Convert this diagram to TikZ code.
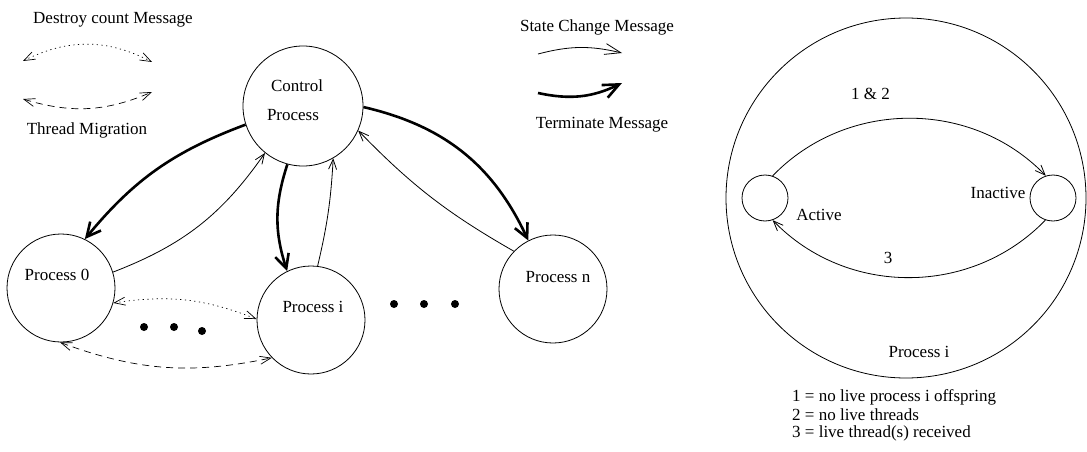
\documentclass[tikz,border=0pt]{standalone}
\usepackage{fontspec}
\setmainfont{Liberation Serif}
\usetikzlibrary{arrows.meta}
\begin{document}
\begin{tikzpicture}[x=1pt,y=1pt,
  font=\fontsize{17}{20}\selectfont,
  proc/.style={circle, draw, line width=0.8pt, inner sep=0pt, minimum size=108pt},
  state/.style={circle, draw, line width=0.8pt, inner sep=0pt, minimum size=46pt},
  lbl/.style={inner sep=0pt},
  dotmark/.style={circle, fill, inner sep=0pt, minimum size=8pt},
  thinmsg/.style={line width=0.8pt, -{Straight Barb[length=10pt,width=8pt]}},
  thickmsg/.style={line width=2.6pt, -{Straight Barb[length=14pt,width=14pt]}},
  dotmsg/.style={line width=0.7pt, dash pattern=on 1.2pt off 3.5pt,
    {Straight Barb[length=11pt,width=8pt]}-{Straight Barb[length=11pt,width=8pt]}},
  dashmsg/.style={line width=0.7pt, dash pattern=on 7pt off 5pt,
    {Straight Barb[length=11pt,width=8pt]}-{Straight Barb[length=11pt,width=8pt]}}
]
\useasboundingbox (0,0) rectangle (1087,451);

% ---- legend, top left and top middle ----
\node[lbl] (ldestroy) at (113,431) {Destroy count Message};
\coordinate (d1) at (23,390);
\coordinate (d2) at (152,389);
\draw[dotmsg] (d1) to[bend left=27] (d2);
\coordinate (m1) at (23,352);
\coordinate (m2) at (152,359);
\draw[dashmsg] (m1) to[bend right=20] (m2);
\node[lbl] (lmigr) at (87,321) {Thread Migration};

\node[lbl] (lstate) at (597,424) {State Change Message};
\coordinate (s1) at (538,397);
\coordinate (s2) at (622,398);
\draw[line width=0.8pt, -{Straight Barb[length=16pt,width=11pt]}] (s1) to[bend left=14] (s2);
\coordinate (t1) at (538,358);
\coordinate (t2) at (622,368);
\draw[line width=2.6pt, -{Straight Barb[length=16pt,width=14pt]}] (t1) to[bend right=19] (t2);
\node[lbl] (lterm) at (602,326) {Terminate Message};

% ---- processes ----
\node[proc, minimum size=120pt] (cp) at (303,345) {};
\node[lbl] (cptxt1) at (297,365) {Control};
\node[lbl] (cptxt2) at (293,336) {Process};

\node[proc] (p0) at (61,163) {};
\node[lbl] (p0txt) at (57,176) {Process 0};
\node[proc] (pi) at (311,131) {};
\node[lbl] (pitxt) at (313,144) {Process i};
\node[proc] (pn) at (553,162) {};
\node[lbl] (pntxt) at (558,174) {Process n};

\node[dotmark] (e1) at (144,124) {};
\node[dotmark] (e2) at (174,124) {};
\node[dotmark] (e3) at (202,120) {};
\node[dotmark] (f1) at (394,147) {};
\node[dotmark] (f2) at (424,147) {};
\node[dotmark] (f3) at (455,147) {};

% ---- messages between processes ----
\draw[thickmsg] (cp.198) to[bend right=15] (p0.64);
\draw[thinmsg]  (p0.17) to[bend right=17] (cp.231);
\draw[thickmsg] (cp.255) to[bend right=18] (pi.116);
\draw[thinmsg]  (pi.83) to[bend right=5] (cp.300);
\draw[thinmsg]  (pn.136) to[bend left=8] (cp.336);
\draw[thickmsg] (cp.359) to[bend left=26] (pn.117);
\draw[dotmsg]   (p0.344) to[bend left=15] (pi.179);
\draw[dashmsg]  (p0.269) to[bend right=16] (pi.224);

% ---- state diagram of process i ----
\node[circle, draw, line width=0.8pt, inner sep=0pt, minimum size=360pt] (big) at (906,253) {};
\node[state] (act) at (765,253) {};
\node[state] (inact) at (1053,253) {};
\node[lbl] (acttxt) at (819,236) {Active};
\node[lbl] (inacttxt) at (998,258) {Inactive};
\draw[thinmsg] (act.71) to[bend left=46] node[lbl, pos=0.37, above=22pt] (c12) {1 \& 2} (inact.108);
\draw[thinmsg] (inact.251) to[bend left=46] node[lbl, pos=0.57, above=12pt] (c3) {3} (act.289);
\node[lbl] (bigtxt) at (919,99) {Process i};

\node[lbl, anchor=west] (n1) at (792,54) {1 = no live process i offspring};
\node[lbl, anchor=west] (n2) at (792,36) {2 = no live threads};
\node[lbl, anchor=west] (n3) at (792,18) {3 = live thread(s) received};
\end{tikzpicture}
\end{document}
